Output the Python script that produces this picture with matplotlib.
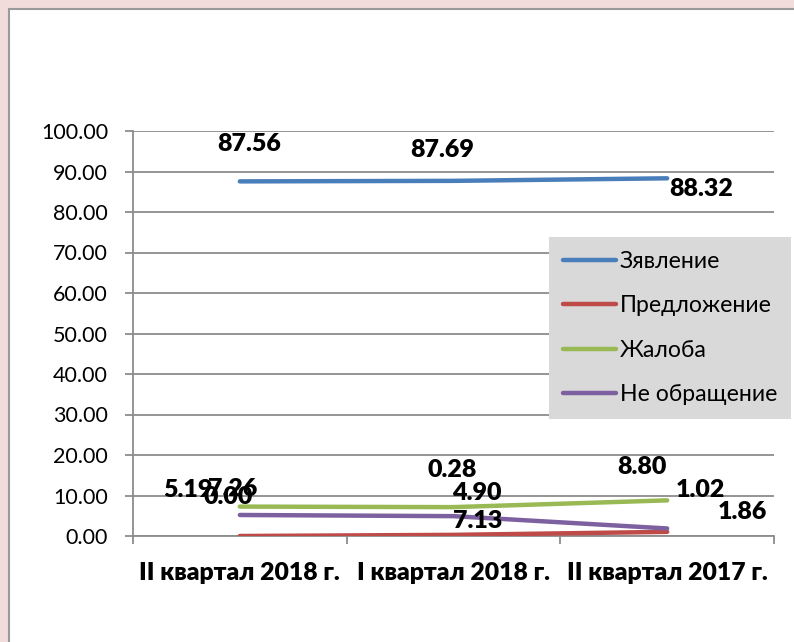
import matplotlib
matplotlib.use("Agg")
import matplotlib.pyplot as plt
from matplotlib.patches import Rectangle

categories = ["II квартал 2018 г.", "I квартал 2018 г.", "II квартал 2017 г."]
series_names = ["Зявление", "Предложение", "Жалоба", "Не обращение"]
zayavlenie = [87.56, 87.69, 88.32]
predlozhenie = [0.00, 0.28, 1.02]
zhaloba = [7.26, 7.13, 8.80]
ne_obrashchenie = [5.19, 4.90, 1.86]
yticks = [0, 10, 20, 30, 40, 50, 60, 70, 80, 90, 100]

colors = ["#4A7EBB", "#BE4B48", "#98B954", "#7D60A0"]
series = [zayavlenie, predlozhenie, zhaloba, ne_obrashchenie]

# label offsets (pixels) per series per category
offsets = [
    [(9, 37), (-11, 31), (34, -11)],
    [(-12, 39), (-1, 65), (33, 42)],
    [(-7, 18), (24, -14), (-25, 33)],
    [(-52, 25), (23, 23), (75, 16)],
]

plt.rcParams['font.family'] = ['Lato', 'DejaVu Sans']

W, H = 794, 642
fig = plt.figure(figsize=(W / 100, H / 100), dpi=100, facecolor="#F2DCDB")
fig.patches.append(Rectangle((9 / W, -0.01), 1.0, 1 - 9 / H + 0.01, transform=fig.transFigure,
                             facecolor="white", edgecolor="#9A9A9A", linewidth=1.5, zorder=-10))

ax = fig.add_axes([133 / W, 1 - 536 / H, (774 - 133) / W, (536 - 131) / H])
ax.set_zorder(5)
ax.set_facecolor("none")
x = list(range(len(categories)))
for name, vals, c, offs in zip(series_names, series, colors, offsets):
    ax.plot(x, vals, color=c, lw=3.2, solid_capstyle="round", label=name, zorder=3)
    for xi, v, (dx, dy) in zip(x, vals, offs):
        ax.annotate(f"{v:.2f}", (xi, v), xytext=(dx, dy), textcoords="offset pixels",
                    ha="center", va="center", fontsize=18, fontweight="heavy", zorder=5)

ax.set_xlim(-0.5, 2.5)
ax.set_ylim(0, 100)
ax.set_yticks(yticks)
ax.set_yticklabels([f"{t:.2f}" for t in yticks], fontsize=15.5)
ax.yaxis.grid(True, color="#8C8C8C", lw=1.3)
ax.set_axisbelow(True)
ax.set_xticks(x)
ax.set_xticklabels(categories, fontsize=17.8, fontweight="heavy")
ax.set_xticks([-0.5, 0.5, 1.5, 2.5], minor=True)
ax.tick_params(axis="x", which="major", length=0, pad=19)
ax.tick_params(axis="x", which="minor", length=6, color="#8C8C8C", width=1.3, direction="out")
ax.tick_params(axis="y", length=6, color="#8C8C8C", width=1.3, pad=12)
for s in ["top", "right"]:
    ax.spines[s].set_visible(False)
for s in ["left", "bottom"]:
    ax.spines[s].set_color("#8C8C8C")
    ax.spines[s].set_linewidth(1.3)

leg = ax.legend(loc="upper left", bbox_to_anchor=(0.649, 0.738), fontsize=16.6,
                frameon=True, fancybox=False, handlelength=2.3, handletextpad=0.17,
                labelspacing=1.02, borderpad=0.6, borderaxespad=0)
leg.get_frame().set_facecolor("#D9D9D9")
leg.get_frame().set_edgecolor("none")
leg.get_frame().set_alpha(1)

fig.savefig("out.png", dpi=100, facecolor=fig.get_facecolor())
